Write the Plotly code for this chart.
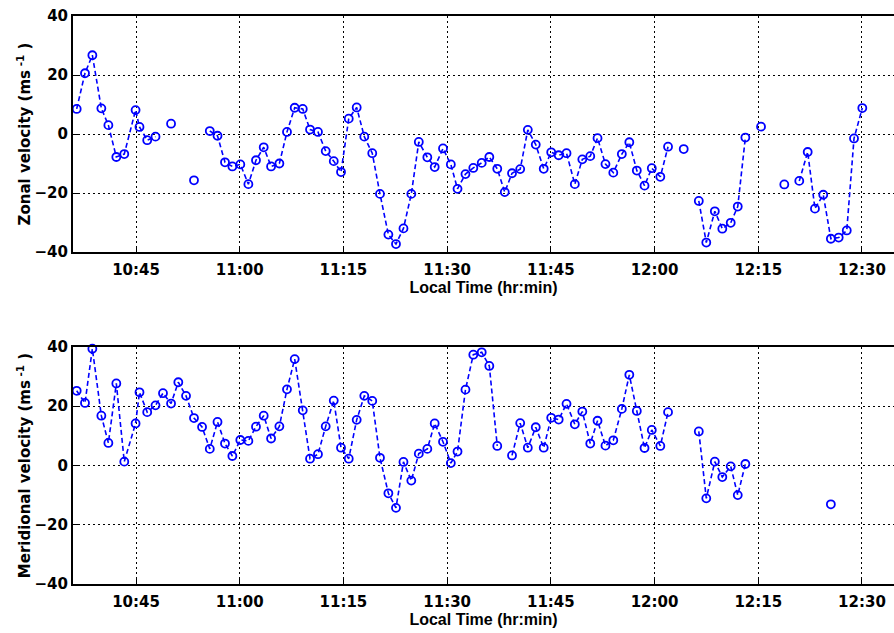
import plotly.graph_objects as go
from plotly.subplots import make_subplots

# sample times (local time) shared by both panels
times = [
    "10:36:25", "10:37:37", "10:38:41", "10:39:59", "10:41:00", "10:42:09", "10:43:18", "10:44:56",
    "10:45:30", "10:46:37", "10:47:49", "10:48:54", "10:50:04", "10:51:07", "10:52:14", "10:53:23",
    "10:54:33", "10:55:40", "10:56:47", "10:57:52", "10:58:56", "11:00:05", "11:01:15", "11:02:21",
    "11:03:28", "11:04:32", "11:05:44", "11:06:50", "11:07:57", "11:09:07", "11:10:10", "11:11:19",
    "11:12:26", "11:13:36", "11:14:39", "11:15:46", "11:16:55", "11:18:01", "11:19:10", "11:20:17",
    "11:21:30", "11:22:36", "11:23:41", "11:24:49", "11:25:54", "11:27:08", "11:28:12", "11:29:24",
    "11:30:32", "11:31:30", "11:32:39", "11:33:47", "11:35:00", "11:36:06", "11:37:15", "11:38:20",
    "11:39:23", "11:40:34", "11:41:40", "11:42:49", "11:43:58", "11:45:03", "11:46:08", "11:47:16",
    "11:48:28", "11:49:33", "11:50:42", "11:51:45", "11:52:54", "11:54:02", "11:55:16", "11:56:21",
    "11:57:26", "11:58:33", "11:59:36", "12:00:50", "12:01:57", "12:03:06", "12:04:13", "12:05:16",
    "12:06:24", "12:07:29", "12:08:43", "12:09:48", "12:11:01", "12:12:02", "12:13:08", "12:14:14",
    "12:15:24", "12:16:33", "12:17:43", "12:18:46", "12:19:53", "12:20:56", "12:22:09", "12:23:12",
    "12:24:24", "12:25:30", "12:26:38", "12:27:48", "12:28:51", "12:30:03",
]

zonal = [
    8.5, 20.6, 26.7, 8.7, 3.0, -7.8, -6.8, 8.1,
    2.4, -2.1, -0.9, None, 3.5, None, None, -15.7,
    None, 1.0, -0.6, -9.6, -11.0, -10.3, -17.0, -8.9,
    -4.5, -11.0, -10.0, 0.7, 8.9, 8.5, 1.5, 0.7,
    -5.8, -9.2, -12.9, 5.2, 9.0, -0.9, -6.5, -20.3,
    -34.1, -37.3, -32.0, -20.3, -2.7, -7.9, -11.2, -4.9,
    -10.3, -18.6, -13.6, -11.5, -9.8, -7.8, -11.8, -19.7,
    -13.3, -11.9, 1.4, -3.6, -11.8, -6.2, -7.2, -6.5,
    -17.0, -8.6, -7.5, -1.4, -10.2, -13.1, -6.8, -2.8,
    -12.4, -17.5, -11.6, -14.5, -4.3, None, -5.1, None,
    -22.7, -36.8, -26.2, -32.1, -30.1, -24.6, -1.2, None,
    2.5, None, None, -17.1, None, -15.9, -6.1, -25.3,
    -20.6, -35.5, -35.1, -32.7, -1.5, 8.8,
]

meridional = [
    25.2, 21.1, 39.4, 16.8, 7.6, 27.7, 1.3, 14.2,
    24.7, 18.0, 20.3, 24.4, 20.9, 28.1, 23.5, 16.0,
    13.0, 5.6, 14.7, 7.4, 3.2, 8.6, 8.3, 13.1,
    16.8, 9.1, 13.2, 25.7, 35.9, 18.6, 2.3, 3.8,
    13.2, 21.9, 6.0, 2.3, 15.4, 23.5, 21.8, 2.6,
    -9.4, -14.3, 1.2, -5.1, 4.0, 5.6, 14.2, 8.0,
    0.8, 4.7, 25.6, 37.4, 38.2, 33.6, 6.6, None,
    3.4, 14.3, 6.0, 12.9, 6.0, 16.1, 15.5, 20.8,
    13.9, 18.2, 7.4, 15.1, 6.7, 8.5, 19.1, 30.6,
    18.4, 5.9, 12.0, 6.6, 18.0, None, None, None,
    11.5, -11.1, 1.3, -3.9, -0.3, -10.0, 0.5, None,
    None, None, None, None, None, None, None, None,
    None, -13.1, None, None, None, None,
]

tick_labels = ["10:45", "11:00", "11:15", "11:30", "11:45", "12:00", "12:15", "12:30"]
y_ticks = [-40, -20, 0, 20, 40]

day = "2000-01-01 "
x = [day + t for t in times]

fig = make_subplots(rows=2, cols=1)

for row, vals in [(1, zonal), (2, meridional)]:
    fig.add_trace(
        go.Scatter(
            x=x, y=vals, mode="lines+markers",
            line=dict(color="#0000ff", width=1.6, dash="5px,3px"),
            marker=dict(symbol="circle-open", size=8, color="#0000ff",
                        line=dict(width=1.8, color="#0000ff")),
            showlegend=False, cliponaxis=False,
        ),
        row=row, col=1,
    )

tick_font = dict(family="DejaVu Sans", size=15, color="black", weight="bold")
title_font = dict(family="Liberation Sans", size=16, color="black", weight="bold")
ytitle_font = dict(family="DejaVu Sans", size=15, color="black", weight="bold")

xcommon = dict(
    type="date",
    range=[day + "10:35:53", day + "12:34:38"],
    tickvals=[day + t for t in tick_labels],
    ticktext=tick_labels,
    ticks="inside", ticklen=5, tickcolor="black", tickwidth=1,
    ticklabelstandoff=3, ticklabeloverflow="allow",
    showline=True, linecolor="black", linewidth=2, mirror=True,
    showgrid=True, gridcolor="black", gridwidth=1, griddash="2px,3px",
    tickfont=tick_font, automargin=False,
    title=dict(text="Local Time (hr:min)", font=title_font, standoff=1),
)
ycommon = dict(
    range=[-40, 40],
    tickvals=y_ticks,
    ticks="inside", ticklen=5, tickcolor="black", tickwidth=1,
    ticklabeloverflow="allow",
    showline=True, linecolor="black", linewidth=2,
    showgrid=True, gridcolor="black", gridwidth=1, griddash="2px,3px",
    zeroline=False, automargin=False,
    tickfont=tick_font,
)

fig.update_xaxes(**xcommon)
fig.update_yaxes(**ycommon)
fig.update_layout(
    xaxis=dict(domain=[0, 1], anchor="y"),
    xaxis2=dict(domain=[0, 1], anchor="y2"),
    yaxis=dict(domain=[0.5845, 1],
               title=dict(text="Zonal velocity (ms<sup> -1</sup> )", font=ytitle_font, standoff=0)),
    yaxis2=dict(domain=[0, 0.4173],
                title=dict(text="Meridional velocity (ms<sup> -1</sup> )", font=ytitle_font, standoff=0)),
    width=894, height=633,
    margin=dict(l=73, r=0, t=16, b=49),
    plot_bgcolor="white", paper_bgcolor="white",
)

# drop the default page margin so the figure sits at the window's corner
fig.write_html("out.html", config={"displayModeBar": False},
               post_script="document.body.style.margin='0';")
